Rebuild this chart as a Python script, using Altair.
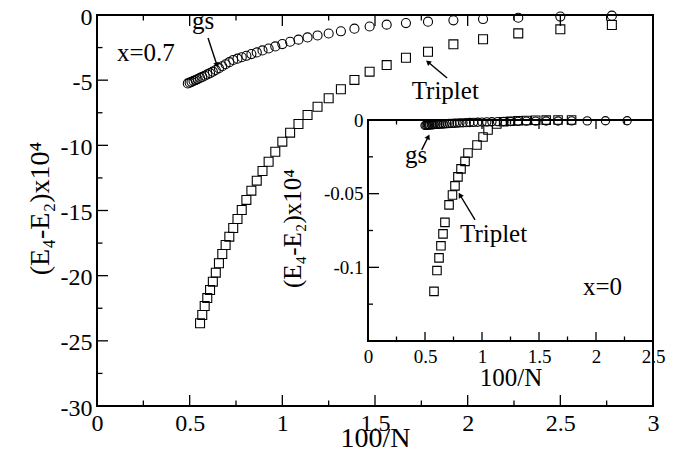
import altair as alt
import pandas as pd

# ---------------- data ----------------
# main panel, x = 0.7
gs07_x = [2.778, 2.5, 2.273, 2.083, 1.923, 1.786, 1.667, 1.563, 1.471, 1.389, 1.316, 1.25,
          1.19, 1.136, 1.087, 1.042, 1.0, 0.962, 0.926, 0.893, 0.862, 0.833, 0.806, 0.781,
          0.758, 0.735, 0.714, 0.694, 0.676, 0.658, 0.641, 0.625, 0.61, 0.595, 0.581, 0.568,
          0.556, 0.543, 0.532, 0.521, 0.51, 0.5, 0.49]
gs07_y = [-0.05, -0.12, -0.21, -0.31, -0.41, -0.51, -0.62, -0.74, -0.88, -1.05, -1.25, -1.42,
          -1.57, -1.72, -1.89, -2.05, -2.23, -2.41, -2.57, -2.72, -2.87, -3.0, -3.13, -3.24,
          -3.35, -3.45, -3.62, -3.78, -3.93, -4.08, -4.22, -4.35, -4.46, -4.56, -4.66, -4.75,
          -4.83, -4.92, -4.99, -5.06, -5.13, -5.19, -5.25]
tr07_x = [2.778, 2.5, 2.273, 2.083, 1.923, 1.786, 1.667, 1.563, 1.471, 1.389, 1.316, 1.25,
          1.19, 1.136, 1.087, 1.042, 1.0, 0.962, 0.926, 0.893, 0.862, 0.833, 0.806, 0.781,
          0.758, 0.735, 0.714, 0.694, 0.676, 0.658, 0.641, 0.625, 0.61, 0.595, 0.581, 0.568,
          0.556]
tr07_y = [-0.77, -1.10, -1.41, -1.86, -2.25, -2.82, -3.28, -3.84, -4.35, -4.98, -5.70, -6.39,
          -7.04, -7.67, -8.36, -9.03, -9.72, -10.49, -11.26, -11.97, -12.71, -13.48, -14.19,
          -14.96, -15.65, -16.34, -17.01, -17.65, -18.34, -19.05, -19.77, -20.46, -21.10,
          -21.72, -22.33, -23.02, -23.65]

# inset, x = 0
gs0_x = [2.273, 2.083, 1.923, 1.786, 1.667, 1.563, 1.471, 1.389, 1.316, 1.25, 1.19, 1.136,
         1.087, 1.042, 1.0, 0.962, 0.926, 0.893, 0.862, 0.833, 0.806, 0.781, 0.758, 0.735,
         0.714, 0.694, 0.676, 0.658, 0.641, 0.625, 0.61, 0.595, 0.581, 0.568, 0.556, 0.543,
         0.532, 0.521, 0.51, 0.5]
gs0_y = [-0.0005, -0.0005, -0.0006, -0.0006, -0.0007, -0.0007, -0.0008, -0.0008, -0.0009,
         -0.001, -0.001, -0.0011, -0.0012, -0.0013, -0.0014, -0.0015, -0.0016, -0.0017,
         -0.0018, -0.0019, -0.002, -0.0021, -0.0022, -0.0023, -0.0024, -0.0025, -0.0026,
         -0.0027, -0.0028, -0.0029, -0.003, -0.003, -0.0031, -0.0032, -0.0033, -0.0034,
         -0.0034, -0.0035, -0.0036, -0.0037]
tr0_x = [1.786, 1.667, 1.563, 1.471, 1.389, 1.316, 1.25, 1.19, 1.13, 1.053, 1.009, 0.956,
         0.877, 0.851, 0.816, 0.789, 0.763, 0.741, 0.711, 0.675, 0.658, 0.640, 0.623, 0.605,
         0.579]
tr0_y = [0.0, 0.0, -0.0001, -0.0002, -0.0003, -0.0005, -0.0008, -0.0012, -0.0027, -0.0068,
         -0.0115, -0.0170, -0.0224, -0.0281, -0.0332, -0.0386, -0.0447, -0.0509, -0.0576,
         -0.0695, -0.0773, -0.0854, -0.0936, -0.1022, -0.1163]

# tick values
main_x_major = [0, 0.5, 1, 1.5, 2, 2.5, 3]
main_x_minor = [0.25, 0.75, 1.25, 1.75, 2.25, 2.75]
main_y_major = [-30, -25, -20, -15, -10, -5, 0]
main_y_minor = [-27.5, -22.5, -17.5, -12.5, -7.5, -2.5]
inset_x_major = [0, 0.5, 1, 1.5, 2, 2.5]
inset_x_minor = [0.25, 0.75, 1.25, 1.75, 2.25]
inset_y_major = [-0.15, -0.1, -0.05, 0]
inset_y_minor = [-0.125, -0.075, -0.025]
inset_y_labels = [-0.1, -0.05, 0]

# annotations
main_text = ["x=0.7", "gs", "Triplet"]
main_text_x = [0.108, 0.513, 1.698]
main_text_y = [-3.53, -1.11, -6.47]
main_arrow_x1 = [0.599, 1.889]
main_arrow_y1 = [-1.76, -4.83]
main_arrow_x2 = [0.647, 1.786]
main_arrow_y2 = [-3.84, -3.61]
main_arrow_ang = [162, 310]

inset_text = ["gs", "Triplet", "x=0"]
inset_text_x = [0.325, 0.807, 1.886]
inset_text_y = [-0.0292, -0.0825, -0.1187]
inset_arrow_x1 = [0.471, 0.939]
inset_arrow_y1 = [-0.0203, -0.0678]
inset_arrow_x2 = [0.529, 0.807]
inset_arrow_y2 = [-0.0113, -0.0509]
inset_arrow_ang = [26, 329]

# ---------------- layout ----------------
FONT = "Liberation Serif"
W, H = 556, 391
IX0, IX1 = 271, 556      # inset box inside plot area (px)
IY0, IY1 = 105, 326
YTITLE = "(E\u2084-E\u2082)x10\u2074"


def mx():
    return alt.Scale(domain=[0, 3], nice=False, zero=False)


def my():
    return alt.Scale(domain=[-30, 0], nice=False, zero=False)


def ix():
    return alt.Scale(domain=[0, 2.5], range=[IX0, IX1], nice=False, zero=False)


def iy():
    return alt.Scale(domain=[-0.15, 0], range=[IY1, IY0], nice=False, zero=False)


def mk_axis(values, lfs, lpad, title, tfs, tx, ty, orient, offset=0, angle=0, loff=0):
    return alt.Axis(values=values, labelExpr="'' + datum.value", ticks=False, domain=False,
                    grid=False, labelFont=FONT, labelFontSize=lfs, labelColor="black",
                    labelPadding=lpad, labelFlush=False, labelOverlap=False, labelOffset=loff,
                    title=title, titleFont=FONT, titleFontSize=tfs, titleFontWeight="normal",
                    titleColor="black", titleX=tx, titleY=ty, titleAngle=angle,
                    titleBaseline="alphabetic", titleAlign="center", orient=orient,
                    offset=offset, zindex=1)


def df(**cols):
    return pd.DataFrame(cols)


def xticks(vals, scale, y0, y1):
    return alt.Chart(df(v=vals)).mark_rule(color="black", strokeWidth=1.3).encode(
        x=alt.X("v:Q", scale=scale(), axis=None), y=alt.value(y0), y2=alt.value(y1))


def yticks(vals, scale, x0, x1):
    return alt.Chart(df(v=vals)).mark_rule(color="black", strokeWidth=1.3).encode(
        y=alt.Y("v:Q", scale=scale(), axis=None), x=alt.value(x0), x2=alt.value(x1))


def points(xs, ys, sx, sy, shape, size, xaxis=None, yaxis=None):
    return alt.Chart(df(x=xs, y=ys)).mark_point(
        shape=shape, filled=False, size=size, color="black", strokeWidth=1.1, opacity=1
    ).encode(x=alt.X("x:Q", scale=sx(), axis=xaxis), y=alt.Y("y:Q", scale=sy(), axis=yaxis))


def texts(ts, xs, ys, sx, sy):
    return alt.Chart(df(t=ts, x=xs, y=ys)).mark_text(
        font=FONT, fontSize=25, align="left", baseline="alphabetic", color="black"
    ).encode(x=alt.X("x:Q", scale=sx(), axis=None), y=alt.Y("y:Q", scale=sy(), axis=None),
             text="t:N")


def arrows(x1, y1, x2, y2, ang, sx, sy):
    d = df(x1=x1, y1=y1, x2=x2, y2=y2, a=ang)
    shaft = alt.Chart(d).mark_rule(color="black", strokeWidth=1.4).encode(
        x=alt.X("x1:Q", scale=sx(), axis=None), y=alt.Y("y1:Q", scale=sy(), axis=None),
        x2="x2:Q", y2="y2:Q")
    head = alt.Chart(d).mark_point(
        shape="triangle-up", filled=True, size=34, color="black", opacity=1
    ).encode(x=alt.X("x2:Q", scale=sx(), axis=None), y=alt.Y("y2:Q", scale=sy(), axis=None),
             angle=alt.Angle("a:Q", scale=None))
    return [shaft, head]


# ---------------- main panel ----------------
main_gs = points(gs07_x, gs07_y, mx, my, "circle", 82,
                 xaxis=mk_axis(main_x_major, 24, 5, "100/N", 28, W / 2, 40, "bottom"),
                 yaxis=mk_axis(main_y_major, 24, 5, YTITLE, 28, -49, 193, "left", angle=270,
                               loff=2))
main_tr = points(tr07_x, tr07_y, mx, my, "square", 80)

main_ticks = [
    xticks(main_x_major, mx, H, H - 11), xticks(main_x_minor, mx, H, H - 5.5),
    xticks(main_x_major, mx, 0, 11), xticks(main_x_minor, mx, 0, 5.5),
    yticks(main_y_major, my, 0, 11), yticks(main_y_minor, my, 0, 5.5),
]
main_txt = texts(main_text, main_text_x, main_text_y, mx, my)
main_arr = arrows(main_arrow_x1, main_arrow_y1, main_arrow_x2, main_arrow_y2, main_arrow_ang,
                  mx, my)

# ---------------- inset ----------------
inset_box = alt.Chart(df(a=[0])).mark_rect(
    fill="white", stroke="black", strokeWidth=2
).encode(
    x=alt.X(datum=0, type="quantitative", scale=ix(), axis=None),
    x2=alt.X2(datum=2.5),
    y=alt.Y(datum=-0.15, type="quantitative", scale=iy(), axis=None),
    y2=alt.Y2(datum=0),
)
inset_gs = points(gs0_x, gs0_y, ix, iy, "circle", 68,
                  xaxis=mk_axis(inset_x_major, 19, 6, "100/N", 25, (IX0 + IX1) / 2, 44,
                                "bottom", offset=-(H - IY1)),
                  yaxis=mk_axis(inset_y_labels, 19, 5, YTITLE, 25, -68, 213, "left",
                                offset=-IX0, angle=270))
inset_tr = points(tr0_x, tr0_y, ix, iy, "square", 72)
inset_ticks = [
    xticks(inset_x_major, ix, IY1, IY1 - 9), xticks(inset_x_minor, ix, IY1, IY1 - 4.5),
    xticks(inset_x_major, ix, IY0, IY0 + 9), xticks(inset_x_minor, ix, IY0, IY0 + 4.5),
    yticks(inset_y_major, iy, IX0, IX0 + 11), yticks(inset_y_minor, iy, IX0, IX0 + 5),
]
inset_txt = texts(inset_text, inset_text_x, inset_text_y, ix, iy)
inset_arr = arrows(inset_arrow_x1, inset_arrow_y1, inset_arrow_x2, inset_arrow_y2,
                   inset_arrow_ang, ix, iy)

layers = ([main_gs, main_tr] + main_ticks + [main_txt] + main_arr +
          [inset_box, inset_gs, inset_tr] + inset_ticks + [inset_txt] + inset_arr)

chart = alt.layer(*layers).resolve_scale(
    x="independent", y="independent"
).properties(
    width=W, height=H,
    autosize=alt.AutoSizeParams(type="none"),
    padding={"left": 89, "top": 7, "right": 15, "bottom": 42},
    background="white",
).configure_view(stroke="black", strokeWidth=2)

chart.save("out.html", embed_options={"renderer": "svg", "actions": False})
